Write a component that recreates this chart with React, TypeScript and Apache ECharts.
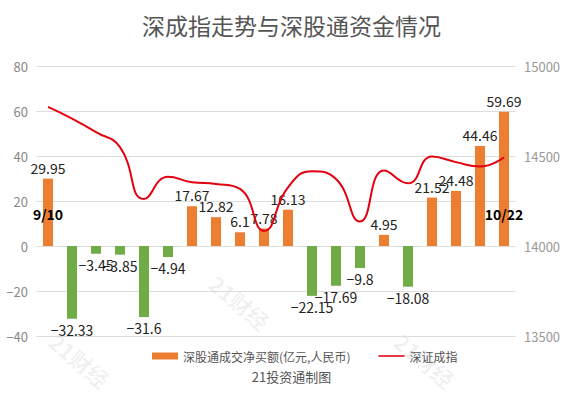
import React, { useEffect, useRef } from "react";
import * as echarts from "echarts";

const dates = [
  "9/10", "9/13", "9/14", "9/15", "9/16", "9/17", "9/23", "9/24", "9/27", "9/28",
  "9/29", "10/8", "10/11", "10/12", "10/15", "10/18", "10/19", "10/20", "10/21", "10/22",
];
const netBuy = [
  29.95, -32.33, -3.45, -3.85, -31.6, -4.94, 17.67, 12.82, 6.1, 7.78,
  16.13, -22.15, -17.69, -9.8, 4.95, -18.08, 21.52, 24.48, 44.46, 59.69,
];
const szIndex = [
  14773, 14708, 14633, 14549, 14261, 14385, 14354, 14345, 14317, 14084,
  14326, 14415, 14372, 14136, 14419, 14348, 14497, 14466, 14441, 14493,
];
const leftTicks = { min: -40, max: 80, interval: 20 };
const rightTicks = { min: 13500, max: 15000, interval: 500 };

const FONT = "'Noto Sans CJK SC', 'Noto Sans', sans-serif";

export default function App() {
  const ref = useRef<HTMLDivElement>(null);
  useEffect(() => {
    document.body.style.margin = "0";
    const chart = echarts.init(ref.current!, null, { renderer: "svg" });
    const minus = (v: number) => String(v).replace("-", "\u2212");
    chart.setOption({
      animation: false,
      backgroundColor: "#fff",
      textStyle: { fontFamily: FONT },
      title: [
        {
          text: "深成指走势与深股通资金情况",
          left: "center",
          top: 8,
          textStyle: { fontSize: 23, fontWeight: "normal", color: "#555", fontFamily: FONT },
        },
        {
          text: "21投资通制图",
          left: "center",
          top: 365,
          textStyle: { fontSize: 13, fontWeight: "normal", color: "#555", fontFamily: FONT },
        },
      ],
      legend: {
        left: 147,
        top: 345,
        itemGap: 28,
        itemWidth: 26,
        itemHeight: 7,
        textStyle: { fontSize: 12, color: "#555", fontFamily: FONT },
        data: [
          { name: "深股通成交净买额(亿元,人民币)", icon: "rect", itemStyle: { color: "#ED7D31" } },
          { name: "深证成指", icon: "path://M0,0H30V1.8H0Z", itemStyle: { color: "#E3000F" } },
        ],
      },
      grid: { left: 36, right: 67, top: 66, bottom: 59 },
      xAxis: {
        type: "category",
        data: dates,
        z: 10,
        axisLine: { show: false, onZero: false },
        axisTick: { show: false },
        axisLabel: {
          interval: (i: number) => i === 0 || i === dates.length - 1,
          margin: -129,
          fontSize: 14,
          fontWeight: "bold",
          color: "#000",
          fontFamily: FONT,
        },
      },
      yAxis: [
        {
          type: "value",
          ...leftTicks,
          axisLine: { show: false },
          axisTick: { show: false },
          axisLabel: { color: "#888", fontSize: 13, margin: 8, formatter: (v: number) => minus(v) },
          splitLine: { lineStyle: { color: "#ddd" } },
        },
        {
          type: "value",
          ...rightTicks,
          axisLine: { show: false },
          axisTick: { show: false },
          axisLabel: { color: "#999", fontSize: 13, margin: 8, formatter: (v: number) => String(v) },
          splitLine: { show: false },
        },
      ],
      series: [
        {
          name: "深股通成交净买额(亿元,人民币)",
          type: "bar",
          barWidth: 10,
          itemStyle: { color: "#ED7D31" },
          data: netBuy.map((v) => ({
            value: v,
            itemStyle: { color: v >= 0 ? "#ED7D31" : "#70AD47" },
            label: { position: v >= 0 ? "top" : "bottom" },
          })),
          label: {
            show: true,
            distance: 4,
            fontSize: 14,
            color: "#222",
            fontFamily: FONT,
            formatter: (p: any) => minus(p.value),
          },
        },
        {
          name: "深证成指",
          type: "line",
          yAxisIndex: 1,
          smooth: true,
          symbol: "none",
          data: szIndex,
          itemStyle: { color: "#E3000F" },
          lineStyle: { color: "#E3000F", width: 2 },
          z: 5,
        },
      ],
      graphic: [
        { x: 240, y: 302 },
        { x: 80, y: 360 },
        { x: 425, y: 360 },
      ].map((p) => ({
        type: "text",
        x: p.x,
        y: p.y,
        rotation: -0.7,
        silent: true,
        z: -1,
        style: {
          text: "21财经",
          fontSize: 22,
          fontWeight: "bold",
          fill: "rgba(0,0,0,0.06)",
          align: "center",
          verticalAlign: "middle",
          fontFamily: FONT,
        },
      })),
    });
    return () => chart.dispose();
  }, []);
  return <div ref={ref} style={{ width: 583, height: 395 }} />;
}
